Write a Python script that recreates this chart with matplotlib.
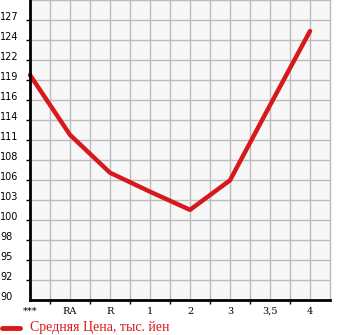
import matplotlib
matplotlib.use("Agg")
import matplotlib.pyplot as plt
import matplotlib.transforms as mtransforms
import numpy as np

categories = ["***", "RA", "R", "1", "2", "3", "3,5", "4"]
prices = [119.7, 111.8, 106.8, 104.3, 101.9, 105.8, 115.7, 125.5]
ytick_values = [90 + 2.64 * k for k in range(15)]
ytick_labels = ["90", "92", "95", "98", "100", "103", "106", "108", "111",
                "114", "116", "119", "122", "124", "127"]
legend_label = "Средняя Цена, тыс. йен"

red = "#d7191c"
fig = plt.figure(figsize=(3.45, 3.35), dpi=100)
ax = fig.add_axes([30/345, 35/335, 300/345, 300/335])
ax.set_facecolor("#f7f7f7")
x = np.arange(len(categories))
ax.set_xlim(0, 7.5)
ax.set_ylim(90, 90 + 2.64 * 15)

# grid
for gx in np.arange(0.5, 7.5, 0.5):
    ax.axvline(gx, color="#bbbbbb", lw=1, zorder=1)
for gy in ytick_values[1:]:
    ax.axhline(gy, color="#bbbbbb", lw=1, zorder=1)

ax.plot(x, prices, color=red, lw=3.2, solid_capstyle="round",
        solid_joinstyle="round", zorder=3, clip_on=False)

for s in ["top", "right"]:
    ax.spines[s].set_color("#bbbbbb")
    ax.spines[s].set_linewidth(1)
for s in ["left", "bottom"]:
    ax.spines[s].set_color("black")
    ax.spines[s].set_linewidth(2)
    ax.spines[s].set_zorder(4)

# x ticks: major between categories (marks only), minor labels at categories
ax.set_xticks(np.arange(0.5, 7.5, 1.0))
ax.set_xticklabels([])
ax.tick_params(axis="x", which="major", length=3, width=1, direction="out", color="black")
ax.set_xticks(x, minor=True)
ax.set_xticklabels(categories, minor=True, fontsize=7, family="DejaVu Serif")
ax.tick_params(axis="x", which="minor", length=0, pad=5, labelcolor="black")

ax.set_yticks(ytick_values[1:])
ax.set_yticklabels([])
ax.tick_params(axis="y", length=3, width=1, direction="out", color="black")

trans = mtransforms.blended_transform_factory(fig.transFigure, ax.transData)
offset = mtransforms.ScaledTranslation(0, 3/100, fig.dpi_scale_trans)
for v, lab in zip(ytick_values, ytick_labels):
    fig.text(0.0, v, lab, transform=trans + offset, ha="left", va="center",
             fontsize=7, family="DejaVu Sans", color="black")

# legend
fig.add_artist(plt.Line2D([2/345, 20/345], [7/335, 7/335], color=red, lw=3.5,
                          solid_capstyle="round", transform=fig.transFigure))
fig.text(30/345, 7/335, legend_label, color=red, fontsize=10, ha="left", va="center",
         family="Liberation Serif")

fig.savefig("out.png", dpi=100)
